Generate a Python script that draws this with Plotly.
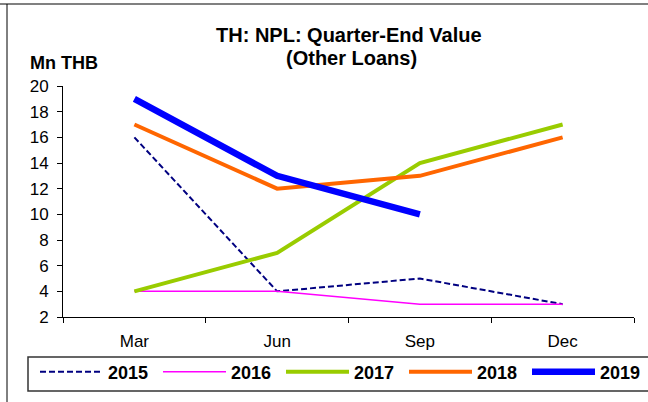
import plotly.graph_objects as go

# Quarter-end NPL values for other loans (Mn THB)
quarters = ["Mar", "Jun", "Sep", "Dec"]
years = ["2015", "2016", "2017", "2018", "2019"]
v2015 = [16, 4, 5, 3]
v2016 = [4, 4, 3, 3]
v2017 = [4, 7, 14, 17]
v2018 = [17, 12, 13, 16]
v2019 = [19, 13, 10]
y_ticks = [2, 4, 6, 8, 10, 12, 14, 16, 18, 20]

series = [v2015, v2016, v2017, v2018, v2019]
styles = [
    dict(color="#000080", width=2, dash="6px,3px"),
    dict(color="#FF00FF", width=1.5),
    dict(color="#99CC00", width=4),
    dict(color="#FF6600", width=4),
    dict(color="#0000FF", width=6.5),
]

fig = go.Figure()
for name, vals, st in zip(years, series, styles):
    fig.add_trace(go.Scatter(
        x=quarters[:len(vals)], y=vals, name=name, mode="lines",
        line=st,
    ))

W, H = 648, 402
L, R, T, B = 63, 14, 86, 85
pw, ph = W - L - R, H - T - B


def px_x(p):
    return (p - L) / pw


def px_y(p):
    return (H - B - p) / ph


font_fam = "Liberation Sans, Arial, sans-serif"

fig.update_layout(
    width=W, height=H,
    margin=dict(l=L, r=R, t=T, b=B, pad=0, autoexpand=False),
    paper_bgcolor="white", plot_bgcolor="white",
    font=dict(family=font_fam, size=17, color="black"),
    showlegend=True,
    legend=dict(
        orientation="h",
        x=px_x(35), xanchor="left",
        y=px_y(372), yanchor="middle",
        bgcolor="rgba(0,0,0,0)", borderwidth=0,
        itemwidth=63, entrywidth=45, entrywidthmode="pixels",
        font=dict(family=font_fam, size=18, color="black", weight="bold"),
        traceorder="normal",
    ),
    xaxis=dict(
        type="category", categoryorder="array", categoryarray=quarters,
        range=[-0.5, 3.5], tickson="boundaries",
        showgrid=False, zeroline=False,
        showline=True, linecolor="black", linewidth=1,
        ticks="outside", ticklen=5, tickcolor="black", tickwidth=1,
        ticklabelstandoff=9,
        tickfont=dict(size=17), automargin=False,
    ),
    yaxis=dict(
        range=[2, 20], tickvals=y_ticks,
        showgrid=False, zeroline=False,
        showline=True, linecolor="black", linewidth=1,
        ticks="outside", ticklen=5, tickcolor="black", tickwidth=1,
        ticklabelstandoff=5,
        tickfont=dict(size=17), automargin=False,
    ),
    annotations=[
        dict(text="TH: NPL: Quarter-End Value",
             xref="paper", yref="paper", x=px_x(349), y=px_y(35),
             xanchor="center", yanchor="middle", showarrow=False,
             font=dict(family=font_fam, size=20, weight="bold")),
        dict(text="(Other Loans)",
             xref="paper", yref="paper", x=px_x(351), y=px_y(58),
             xanchor="center", yanchor="middle", showarrow=False,
             font=dict(family=font_fam, size=20, weight="bold")),
        dict(text="Mn THB", xref="paper", yref="paper",
             x=px_x(64), y=px_y(63), xanchor="center", yanchor="middle",
             showarrow=False,
             font=dict(family=font_fam, size=18, weight="bold")),
    ],
    shapes=[
        # outer frame: top and left edges
        dict(type="line", xref="paper", yref="paper",
             x0=px_x(0), x1=px_x(W), y0=px_y(4), y1=px_y(4),
             line=dict(color="#808080", width=2)),
        dict(type="line", xref="paper", yref="paper",
             x0=px_x(7), x1=px_x(7), y0=px_y(4), y1=px_y(H),
             line=dict(color="black", width=1)),
        # legend box
        dict(type="rect", xref="paper", yref="paper",
             x0=px_x(28), x1=px_x(W + 10), y0=px_y(357), y1=px_y(391),
             line=dict(color="#333333", width=1.5), fillcolor="rgba(0,0,0,0)"),
    ],
)

fig.write_html("out.html")
